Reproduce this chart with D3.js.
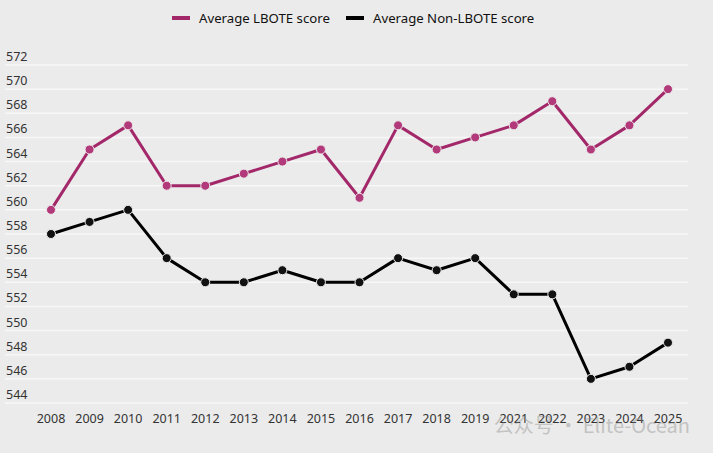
<!DOCTYPE html>
<html>
<head>
<meta charset="utf-8">
<script src="https://cdn.jsdelivr.net/npm/d3@7"></script>
<style>
  html, body { margin: 0; padding: 0; background: #ebebeb; }
  svg { display: block; font-family: "Noto Sans", "Open Sans", sans-serif; }
</style>
</head>
<body>
<svg id="chart" width="713" height="453"></svg>
<script>
// NAPLAN averages, no test in 2020
const years = ['2008','2009','2010','2011','2012','2013','2014','2015','2016',
               '2017','2018','2019','2021','2022','2023','2024','2025'];
const lboteScores    = [560,565,567,562,562,563,564,565,561,567,565,566,567,569,565,567,570];
const nonLboteScores = [558,559,560,556,554,554,555,554,554,556,555,556,553,553,546,547,549];
const yTicks = [544,546,548,550,552,554,556,558,560,562,564,566,568,570,572];

const svg = d3.select('#chart');

const x = d3.scalePoint().domain(years).range([51, 668]);
const y = d3.scaleLinear().domain([544, 572]).range([403, 65]);

const series = [
  { name: 'Average LBOTE score',     values: lboteScores,    color: '#a3286a', dot: '#b23a7a' },
  { name: 'Average Non-LBOTE score', values: nonLboteScores, color: '#000000', dot: '#111111' }
];

// gridlines + y labels
const grid = svg.append('g');
grid.selectAll('line').data(yTicks).enter().append('line')
  .attr('x1', 5).attr('x2', 688)
  .attr('y1', d => y(d)).attr('y2', d => y(d))
  .attr('stroke', '#f7f7f7').attr('stroke-width', 1.5);
grid.selectAll('text').data(yTicks).enter().append('text')
  .attr('x', 6).attr('y', d => y(d) - 4)
  .attr('font-size', 12.5).attr('fill', '#333')
  .text(d => d);

// x labels
svg.append('g').selectAll('text').data(years).enter().append('text')
  .attr('x', d => x(d)).attr('y', 423)
  .attr('text-anchor', 'middle')
  .attr('font-size', 12.5).attr('fill', '#333')
  .text(d => d);

// lines
const line = d3.line().x((d, i) => x(years[i])).y(d => y(d));
series.forEach(s => {
  svg.append('path').datum(s.values)
    .attr('d', line)
    .attr('fill', 'none')
    .attr('stroke', s.color)
    .attr('stroke-width', 3)
    .attr('stroke-linejoin', 'round');
  svg.append('g').selectAll('circle').data(s.values).enter().append('circle')
    .attr('cx', (d, i) => x(years[i])).attr('cy', d => y(d))
    .attr('r', 4.5)
    .attr('fill', s.dot)
    .attr('stroke', '#ebebeb').attr('stroke-width', 1);
});

// legend
const legend = svg.append('g');
const items = [
  { s: series[0], x: 172 },
  { s: series[1], x: 346 }
];
items.forEach(it => {
  legend.append('line')
    .attr('x1', it.x).attr('x2', it.x + 18)
    .attr('y1', 18).attr('y2', 18)
    .attr('stroke', it.s.color).attr('stroke-width', 4);
  legend.append('text')
    .attr('x', it.x + 27).attr('y', 23)
    .attr('font-size', 13.2).attr('fill', '#111')
    .text(it.s.name);
});

// watermark
svg.append('text')
  .attr('x', 690).attr('y', 433)
  .attr('text-anchor', 'end')
  .attr('font-size', 20)
  .attr('font-family', '"Noto Sans CJK SC", sans-serif')
  .attr('fill', '#888').attr('opacity', 0.4)
  .text('公众号 · Elite-Ocean');
</script>
</body>
</html>
